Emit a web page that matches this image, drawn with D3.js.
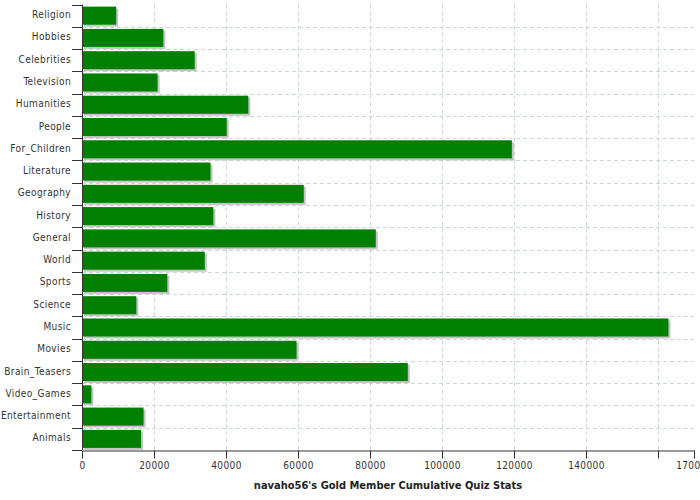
<!DOCTYPE html>
<html>
<head>
<meta charset="utf-8">
<script src="https://cdn.jsdelivr.net/npm/d3@7/dist/d3.min.js"></script>
<style>
  body { margin: 0; background: #fff; }
  svg { display: block; }
  .cat-axis text, .val-axis text { font-family: "DejaVu Sans Condensed", "DejaVu Sans", sans-serif; font-size: 10px; fill: #333; letter-spacing: 0.4px; }
  .title { font-family: "DejaVu Sans Condensed", "DejaVu Sans", sans-serif; font-size: 11px; font-weight: bold; fill: #222; }
</style>
</head>
<body>
<script>
var width = 700, height = 500;

// categories top to bottom
var categories = ["Religion", "Hobbies", "Celebrities", "Television", "Humanities", "People",
    "For_Children", "Literature", "Geography", "History", "General", "World", "Sports",
    "Science", "Music", "Movies", "Brain_Teasers", "Video_Games", "Entertainment", "Animals"];

var scores = [9500, 22600, 31300, 21000, 46200, 40200,
    119400, 35700, 61600, 36500, 81600, 34100, 23700,
    15100, 162900, 59600, 90500, 2600, 17100, 16400];

var tickValues = [0, 20000, 40000, 60000, 80000, 100000, 120000, 140000, 160000, 170000];
var titleText = "navaho56's Gold Member Cumulative Quiz Stats";

var plot = {left: 82, right: 694, top: 4.5, bottom: 450};

var svg = d3.select("body").append("svg")
    .attr("width", width)
    .attr("height", height);

var x = d3.scaleLinear()
    .domain([0, 170000])
    .range([plot.left, plot.right]);

var y = d3.scaleBand()
    .domain(categories)
    .range([plot.top, plot.bottom])
    .padding(0);

var barH = y.bandwidth() * 0.81;
var barOff = (y.bandwidth() - barH) / 2;

// grid lines
var grid = svg.append("g").attr("class", "grid")
    .attr("stroke", "#cdd5d8")
    .attr("stroke-dasharray", "4,3")
    .attr("stroke-width", 1);

grid.selectAll("line.v")
    .data(tickValues.slice(1, -1))
    .enter().append("line")
    .attr("class", "v")
    .attr("x1", function(d) { return Math.round(x(d)) + 0.5; })
    .attr("x2", function(d) { return Math.round(x(d)) + 0.5; })
    .attr("y1", plot.top)
    .attr("y2", plot.bottom);

grid.selectAll("line.h")
    .data(categories.slice(1))
    .enter().append("line")
    .attr("class", "h")
    .attr("x1", plot.left)
    .attr("x2", plot.right)
    .attr("y1", function(d) { return Math.round(y(d)) + 0.5; })
    .attr("y2", function(d) { return Math.round(y(d)) + 0.5; });

// bar shadows
svg.append("g").selectAll("rect")
    .data(categories)
    .enter().append("rect")
    .attr("x", x(0) + 2)
    .attr("y", function(d) { return y(d) + barOff + 2; })
    .attr("width", function(d, i) { return x(scores[i]) - x(0); })
    .attr("height", barH)
    .attr("fill", "#c4c4c4");

// bars
svg.append("g").selectAll("rect")
    .data(categories)
    .enter().append("rect")
    .attr("x", x(0) + 1)
    .attr("y", function(d) { return y(d) + barOff; })
    .attr("width", function(d, i) { return x(scores[i]) - x(0) - 1; })
    .attr("height", barH)
    .attr("fill", "#007f00");

// category axis, ticks at the band edges
var catAxis = svg.append("g").attr("class", "cat-axis");
var edges = categories.map(function(d) { return y(d); }).concat([plot.bottom]);
catAxis.selectAll("line.t")
    .data(edges)
    .enter().append("line")
    .attr("x1", plot.left - 10)
    .attr("x2", plot.left)
    .attr("y1", function(d) { return Math.round(d) + 0.5; })
    .attr("y2", function(d) { return Math.round(d) + 0.5; })
    .attr("stroke", "#333");
catAxis.append("line")
    .attr("x1", plot.left + 0.5).attr("x2", plot.left + 0.5)
    .attr("y1", plot.top).attr("y2", plot.bottom)
    .attr("stroke", "#333");
catAxis.selectAll("text")
    .data(categories)
    .enter().append("text")
    .attr("x", plot.left - 11)
    .attr("y", function(d) { return y(d) + y.bandwidth() / 2 - 1; })
    .attr("dy", "0.35em")
    .attr("text-anchor", "end")
    .text(function(d) { return d; });

// value axis
var valAxis = svg.append("g")
    .attr("class", "val-axis")
    .attr("transform", "translate(0," + (plot.bottom + 0.5) + ")")
    .call(d3.axisBottom(x)
        .tickValues(tickValues)
        .tickSize(8)
        .tickPadding(3)
        .tickSizeOuter(0)
        .tickFormat(function(d) { return d === 160000 ? "" : d; }));
valAxis.select(".domain").attr("stroke", "#333");
valAxis.selectAll(".tick line").attr("stroke", "#333");

svg.append("text")
    .attr("class", "title")
    .attr("x", (plot.left + plot.right) / 2)
    .attr("y", 489)
    .attr("text-anchor", "middle")
    .text(titleText);
</script>
</body>
</html>
